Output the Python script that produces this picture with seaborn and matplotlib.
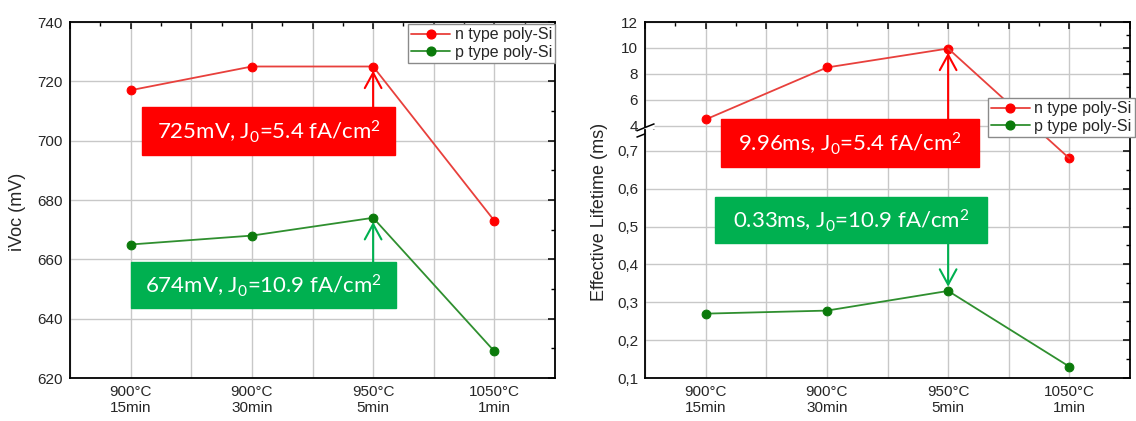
import numpy as np
import pandas as pd
import seaborn as sns
import matplotlib.pyplot as plt
from matplotlib.patches import Rectangle, ConnectionPatch
from matplotlib.lines import Line2D
from matplotlib.path import Path
from matplotlib.ticker import MultipleLocator, FuncFormatter

# data
conditions = ["900°C\n15min", "900°C\n30min", "950°C\n5min", "1050°C\n1min"]
series_names = ["n type poly-Si", "p type poly-Si"]
ivoc_n = [717, 725, 725, 673]
ivoc_p = [665, 668, 674, 629]
tau_n = [4.5, 8.5, 9.96, 0.68]
tau_p = [0.27, 0.278, 0.33, 0.13]
best_idx = 2
ivoc_notes = [r"725mV, J$_\mathrm{0}$=5.4 fA/cm$^\mathrm{2}$",
              r"674mV, J$_\mathrm{0}$=10.9 fA/cm$^\mathrm{2}$"]
tau_notes = [r"9.96ms, J$_\mathrm{0}$=5.4 fA/cm$^\mathrm{2}$",
             r"0.33ms, J$_\mathrm{0}$=10.9 fA/cm$^\mathrm{2}$"]

line_cols = ["#e8403c", "#2f8f2f"]
mark_cols = ["#ff0000", "#0b7a0b"]
box_cols = ["#ff0000", "#00b050"]

sns.set_style("white")
plt.rcParams["font.family"] = ["Liberation Sans", "DejaVu Sans"]
plt.rcParams["mathtext.fontset"] = "custom"
plt.rcParams["mathtext.rm"] = "Lato"
plt.rcParams["mathtext.it"] = "Lato"

W, H = 1136, 421
fig = plt.figure(figsize=(W / 100, H / 100), dpi=100)


def fx(px):
    return px / W


def fy(py):
    return 1 - py / H


pos = np.arange(len(conditions))


def style_axis(ax, xlabels=True):
    ax.set_xlim(-0.5, 3.5)
    ax.xaxis.set_major_locator(MultipleLocator(0.5))
    ax.xaxis.set_minor_locator(MultipleLocator(0.25))
    if xlabels:
        ax.xaxis.set_major_formatter(FuncFormatter(
            lambda v, p: conditions[int(round(v))]
            if abs(v - round(v)) < 1e-6 and 0 <= round(v) < len(conditions) else ""))
    else:
        ax.set_xticklabels([])
    ax.tick_params(which="both", direction="in", top=True, right=True,
                   labelsize=11, color="black", pad=5)
    ax.tick_params(which="major", length=5, width=1.1)
    ax.tick_params(which="minor", length=3, width=1.0)
    ax.grid(True, which="major", color="#c8c8c8", lw=1)
    ax.set_axisbelow(True)
    for s in ax.spines.values():
        s.set_linewidth(1.3)
        s.set_color("black")
    ax.set_xlabel("")
    ax.set_ylabel("")


def draw_series(ax, x, y, i):
    sns.lineplot(x=x, y=y, ax=ax, color=line_cols[i], lw=1.3, marker="o",
                 markersize=6.3, markerfacecolor=mark_cols[i],
                 markeredgecolor=mark_cols[i], legend=False, zorder=3)


def note(x0, y0, x1, y1, color, text):
    fig.add_artist(Rectangle((fx(x0), fy(y1)), fx(x1) - fx(x0), fy(y0) - fy(y1),
                             transform=fig.transFigure, color=color, zorder=4))
    fig.text(fx((x0 + x1) / 2), fy((y0 + y1) / 2 + 1), text, color="white",
             fontsize=16, family="Lato", ha="center", va="center", zorder=5)


def arrow(ax, xy, y_fig, color):
    ax.annotate("", xy=xy, xytext=(xy[0], fy(y_fig)),
                textcoords=("data", "figure fraction"),
                arrowprops=dict(arrowstyle="->,head_length=0.55,head_width=0.3",
                                color=color, lw=1.5, mutation_scale=20,
                                shrinkA=0, shrinkB=3), zorder=6)


def handles():
    return [Line2D([], [], color=line_cols[i], lw=1.3, marker="o", markersize=6.3,
                   markerfacecolor=mark_cols[i], markeredgecolor=mark_cols[i])
            for i in range(2)]


legend_kw = dict(fontsize=11.5, frameon=True, fancybox=False, framealpha=1,
                 edgecolor="#8a8a8a", borderpad=0.2, labelspacing=0.15,
                 handlelength=2.4, handletextpad=0.3, borderaxespad=0)

# ---- left: iVoc
ax1 = fig.add_axes([fx(70), fy(378), fx(555) - fx(70), fy(22) - fy(378)])
draw_series(ax1, pos, ivoc_n, 0)
draw_series(ax1, pos, ivoc_p, 1)
ax1.set_ylim(620, 740)
ax1.yaxis.set_major_locator(MultipleLocator(20))
ax1.yaxis.set_minor_locator(MultipleLocator(10))
style_axis(ax1)
fig.text(fx(18), fy(212), "iVoc (mV)", rotation=90, ha="center", va="center",
         fontsize=13)
leg1 = fig.legend(handles(), series_names, loc="upper right",
                  bbox_to_anchor=(fx(555), fy(24)), **legend_kw)
leg1.get_frame().set_linewidth(1)

note(142, 107, 395, 155, box_cols[0], ivoc_notes[0])
note(131, 262, 396, 308, box_cols[1], ivoc_notes[1])
arrow(ax1, (best_idx, ivoc_n[best_idx]), 107, box_cols[0])
arrow(ax1, (best_idx, ivoc_p[best_idx]), 262, box_cols[1])

# ---- right: lifetime with broken axis
brk = 3.69
ax_top = fig.add_axes([fx(645), fy(130), fx(1130) - fx(645), fy(22) - fy(130)])
ax_bot = fig.add_axes([fx(645), fy(378), fx(1130) - fx(645), fy(130) - fy(378)])

tau_n_arr = np.array(tau_n)
hi = tau_n_arr >= brk
draw_series(ax_top, pos[hi], tau_n_arr[hi], 0)
draw_series(ax_bot, pos[~hi], tau_n_arr[~hi], 0)
draw_series(ax_bot, pos, tau_p, 1)
# segments crossing the break
for a in range(len(pos) - 1):
    if hi[a] != hi[a + 1]:
        axa = ax_top if hi[a] else ax_bot
        axb = ax_top if hi[a + 1] else ax_bot
        fig.add_artist(ConnectionPatch(xyA=(pos[a], tau_n[a]), coordsA=axa.transData,
                                       xyB=(pos[a + 1], tau_n[a + 1]), coordsB=axb.transData,
                                       color=line_cols[0], lw=1.3, zorder=2))

ax_top.set_ylim(brk, 12)
ax_top.yaxis.set_major_locator(MultipleLocator(2))
ax_top.yaxis.set_minor_locator(MultipleLocator(1))
style_axis(ax_top, xlabels=False)
ax_top.spines["bottom"].set_visible(False)
ax_top.tick_params(which="both", bottom=False)

ax_bot.set_ylim(0.1, 0.755)
ax_bot.yaxis.set_major_locator(MultipleLocator(0.1))
ax_bot.yaxis.set_minor_locator(MultipleLocator(0.05))
ax_bot.yaxis.set_major_formatter(FuncFormatter(lambda v, p: f"{v:.1f}".replace(".", ",")))
style_axis(ax_bot)
ax_bot.spines["top"].set_visible(False)
ax_bot.tick_params(which="both", top=False)

# break marks
gap = Path([(-1, -0.75), (1, 0.05), (1, 0.75), (-1, -0.05), (-1, -0.75)],
           [Path.MOVETO, Path.LINETO, Path.LINETO, Path.LINETO, Path.CLOSEPOLY])
slashes = Path([(-1, -0.75), (1, 0.05), (-1, -0.05), (1, 0.75)],
               [Path.MOVETO, Path.LINETO, Path.MOVETO, Path.LINETO])
ax_top.plot([0, 1], [0, 0], transform=ax_top.transAxes, ls="none", marker=gap,
            markersize=13, markerfacecolor="white", markeredgewidth=0, clip_on=False, zorder=7)
ax_top.plot([0, 1], [0, 0], transform=ax_top.transAxes, ls="none", marker=slashes,
            markersize=13, markeredgecolor="black", markeredgewidth=1.1, fillstyle="none",
            clip_on=False, zorder=8)

fig.text(fx(600), fy(212), "Effective Lifetime (ms)", rotation=90, ha="center",
         va="center", fontsize=13)
leg2 = fig.legend(handles(), series_names, loc="upper left",
                  bbox_to_anchor=(fx(988), fy(98)), **legend_kw)
leg2.get_frame().set_linewidth(1)

note(721, 119, 979, 167, box_cols[0], tau_notes[0])
note(715, 197, 987, 243, box_cols[1], tau_notes[1])
arrow(ax_top, (best_idx, tau_n[best_idx]), 119, box_cols[0])
arrow(ax_bot, (best_idx, tau_p[best_idx]), 243, box_cols[1])

fig.savefig("out.png", dpi=100)
